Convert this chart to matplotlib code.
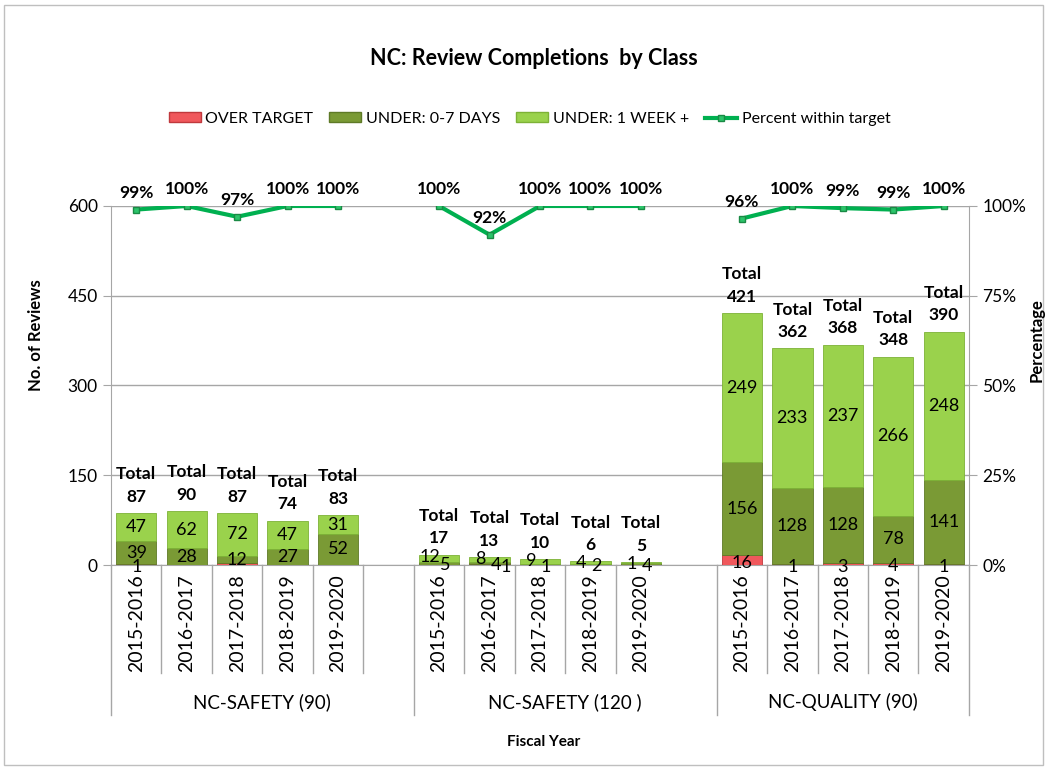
import matplotlib.pyplot as plt
import matplotlib.patches as mpatches
from matplotlib.lines import Line2D
import numpy as np

plt.rcParams['font.family'] = ['Lato', 'DejaVu Sans']

groups = ['NC-SAFETY (90)', 'NC-SAFETY (120 )', 'NC-QUALITY (90)']
years = ['2015-2016', '2016-2017', '2017-2018', '2018-2019', '2019-2020']

over_target = [1, 0, 3, 0, 0,   0, 1, 0, 0, 0,   16, 1, 3, 4, 1]
under_0_7 = [39, 28, 12, 27, 52,   5, 4, 1, 2, 4,   156, 128, 128, 78, 141]
under_week = [47, 62, 72, 47, 31,   12, 8, 9, 4, 1,   249, 233, 237, 266, 248]
totals = [87, 90, 87, 74, 83,   17, 13, 10, 6, 5,   421, 362, 368, 348, 390]
pct_within = [0.99, 1.00, 0.97, 1.00, 1.00,   1.00, 0.92, 1.00, 1.00, 1.00,
              0.965, 1.00, 0.994, 0.99, 1.00]
pct_labels = ['99%', '100%', '97%', '100%', '100%', '100%', '92%', '100%', '100%', '100%',
              '96%', '100%', '99%', '99%', '100%']
hidden_over = [2]   # label hidden behind the "12" in the reference

c_over = '#F0585C'
c_u07 = '#7A9A35'
c_uwk = '#9AD24C'
c_line = '#00B050'
grey = '#A6A6A6'

fig = plt.figure(figsize=(10.49, 7.68), dpi=100)
fig.patches.append(mpatches.Rectangle((0.004, 0.004), 0.99, 0.99, transform=fig.transFigure,
                                      fill=False, edgecolor='#BFBFBF', lw=1))
ax = fig.add_axes([0.1058, 0.2643, 0.8179, 0.4675])

# slot positions: each group takes 6 slots, last slot of a group left empty
x = np.array([g * 6 + i for g in range(3) for i in range(5)])
ov = np.array(over_target)
u7 = np.array(under_0_7)
uw = np.array(under_week)

w = 0.8
ax.bar(x, ov, w, color=c_over, edgecolor='#C0393D', lw=0.6, zorder=3)
ax.bar(x, u7, w, bottom=ov, color=c_u07, edgecolor='#5E7A27', lw=0.6, zorder=3)
ax.bar(x, uw, w, bottom=ov + u7, color=c_uwk, edgecolor='#7DB236', lw=0.6, zorder=3)

for n, (xi, a, b, c, t) in enumerate(zip(x, ov, u7, uw, totals)):
    small = t < 30
    # tiny stacks: labels pushed sideways so they only partly overlap
    dx_c, dx_b, dx_a = (-0.18, 0.12, 0.33) if small else (0, 0, 0)
    if a and n not in hidden_over:
        ax.text(xi + dx_a, a / 2 - 4, str(a), ha='center', va='center', fontsize=13, zorder=5)
    if b:
        yb = a + b / 2 - (3 if small else 0)
        ax.text(xi + dx_b, yb, str(b), ha='center', va='center', fontsize=13, zorder=5)
    if c:
        yc = a + b + c / 2 if not small else t - 3
        ax.text(xi + dx_c, yc, str(c), ha='center', va='center', fontsize=13, zorder=5)
    ax.text(xi, t + 14, 'Total\n%d' % t, ha='center', va='bottom', fontsize=12.5,
            fontweight='bold', linespacing=1.5, zorder=5)

ax.set_xlim(-0.5, 16.5)
ax.set_ylim(0, 600)
ax.set_yticks([0, 150, 300, 450, 600])
ax.tick_params(axis='y', labelsize=12.5, length=6, color=grey, direction='out')
ax.set_xticks([])
ax.grid(axis='y', color=grey, lw=1, zorder=0)
for s in ['top', 'right']:
    ax.spines[s].set_visible(False)
ax.spines['left'].set_color(grey)
ax.spines['bottom'].set_color(grey)
fig.text(0.034, 0.563, 'No. of Reviews', rotation=90, ha='center', va='center',
         fontsize=12, fontweight='bold')

# category axis: year labels, separators, group labels
tr = ax.get_xaxis_transform()
for xi, g in zip(x, range(15)):
    ax.text(xi, -0.025, years[g % 5], rotation=90, ha='center', va='top',
            fontsize=14, transform=tr)
for k in range(18):
    if k == 11:
        continue
    y0 = -0.418 if k in (0, 6, 12, 17) else -0.301
    ax.plot([k - 0.5, k - 0.5], [0, y0], color=grey, lw=1, transform=tr, clip_on=False)
for g, name in enumerate(groups):
    left = g * 6 - 0.5
    right = 16.5 if g == 2 else g * 6 + 5.5
    ax.text((left + right) / 2, -0.382, name, ha='center', va='center', fontsize=13.5,
            transform=tr)
fig.text(0.5185, 0.034, 'Fiscal Year', ha='center', va='center', fontsize=11, fontweight='bold')

# percent line on secondary axis
ax2 = ax.twinx()
pct = np.full(17, np.nan)
pct[x] = pct_within
ax2.plot(np.arange(17), pct, color=c_line, lw=3, marker='s', markersize=5,
         markerfacecolor='#2CC46A', markeredgecolor='#1A8A45', zorder=4)
for xi, p, lab in zip(x, pct_within, pct_labels):
    ax2.text(xi, p + 0.025, lab, ha='center', va='bottom', fontsize=12.5, fontweight='bold')
ax2.set_ylim(0, 1)
ax2.set_yticks([0, 0.25, 0.5, 0.75, 1.0])
ax2.set_yticklabels(['0%', '25%', '50%', '75%', '100%'])
ax2.tick_params(axis='y', labelsize=12.5, length=6, color=grey)
for s in ['top', 'left', 'bottom']:
    ax2.spines[s].set_visible(False)
ax2.spines['right'].set_color(grey)
fig.text(0.988, 0.557, 'Percentage', rotation=90, ha='center', va='center',
         fontsize=12, fontweight='bold')

fig.text(0.509, 0.924, 'NC: Review Completions  by Class', ha='center', va='center',
         fontsize=15.5, fontweight='bold')

handles = [mpatches.Patch(facecolor=c_over, edgecolor='#C0393D'),
           mpatches.Patch(facecolor=c_u07, edgecolor='#5E7A27'),
           mpatches.Patch(facecolor=c_uwk, edgecolor='#7DB236'),
           Line2D([0], [0], color=c_line, lw=3, marker='s', markersize=5,
                  markerfacecolor='#2CC46A', markeredgecolor='#1A8A45')]
fig.legend(handles, ['OVER TARGET', 'UNDER: 0-7 DAYS', 'UNDER: 1 WEEK +', 'Percent within target'],
           loc='center', bbox_to_anchor=(0.505, 0.845), ncol=4, frameon=False, fontsize=11.5,
           handlelength=2.0, handleheight=0.6, handletextpad=0.3, columnspacing=1.0)

fig.savefig('out.png', dpi=100)
